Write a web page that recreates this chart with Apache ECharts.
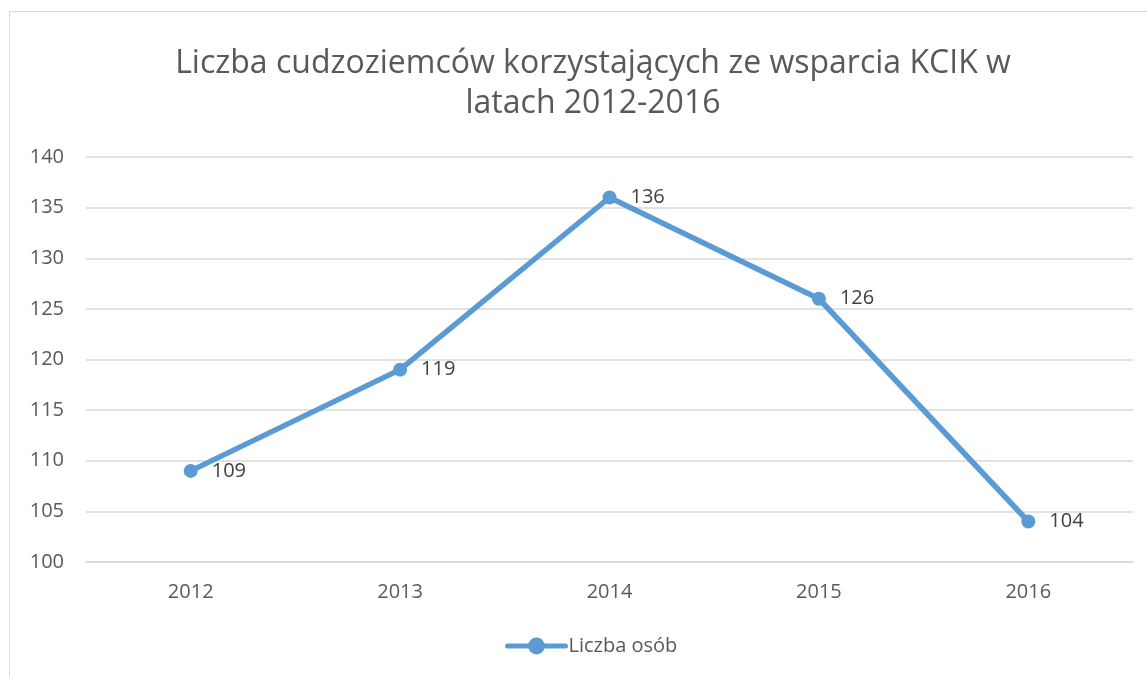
<!DOCTYPE html>
<html>
<head>
<meta charset="utf-8">
<script src="https://cdn.jsdelivr.net/npm/echarts@6/dist/echarts.min.js"></script>
<style>
html, body { margin:0; padding:0; background:#fff; overflow:hidden; }
.frame { position:absolute; left:9px; top:11px; width:1160px; height:700px; border:1.5px solid #d9d9d9; box-sizing:border-box; }
#chart { position:absolute; left:0; top:0; width:1147px; height:677px; }
</style>
</head>
<body>
<div class="frame"></div>
<div id="chart"></div>
<script>
// dane z wykresu
var aYears = ['2012', '2013', '2014', '2015', '2016'];
var aCount = [109, 119, 136, 126, 104];
var seriesName = 'Liczba osób';

var oChart = echarts.init(document.getElementById('chart'));
var opt = {
  title: {
    text: 'Liczba cudzoziemców korzystających ze wsparcia KCIK w\nlatach 2012-2016',
    left: 588,
    textAlign: 'center',
    top: 39,
    textStyle: {
      fontFamily: 'Open Sans',
      fontWeight: 'normal',
      fontSize: 32,
      color: '#595959',
      lineHeight: 40
    }
  },
  legend: {
    data: [seriesName],
    bottom: 16,
    left: 500,
    itemWidth: 58,
    itemHeight: 21,
    itemGap: 4,
    itemStyle: { borderWidth: 0 },
    lineStyle: { width: 5 },
    textStyle: { fontFamily: 'Open Sans', fontSize: 20, color: '#595959', padding: [0, 0, 0, -2] }
  },
  grid: {
    left: 86,
    right: 14,
    top: 157,
    bottom: 115
  },
  xAxis: {
    type: 'category',
    data: aYears,
    boundaryGap: true,
    axisLine: { lineStyle: { color: '#d9d9d9', width: 1.5 } },
    axisTick: { show: false },
    axisLabel: { fontFamily: 'Open Sans', fontSize: 20, color: '#595959', margin: 20 }
  },
  yAxis: {
    type: 'value',
    min: 100,
    max: 140,
    interval: 5,
    axisLine: { show: false },
    axisTick: { show: false },
    splitLine: { lineStyle: { color: '#d9d9d9', width: 1.5 } },
    axisLabel: { fontFamily: 'Open Sans', fontSize: 20, color: '#595959', margin: 22 }
  },
  series: [{
    name: seriesName,
    type: 'line',
    data: aCount,
    symbol: 'circle',
    symbolSize: 14,
    lineStyle: { color: '#5b9bd5', width: 5.5, cap: 'round' },
    itemStyle: { color: '#5b9bd5' },
    label: {
      show: true,
      position: 'right',
      distance: 14,
      fontFamily: 'Open Sans',
      fontSize: 20,
      color: '#404040'
    }
  }]
};
oChart.setOption(opt);
</script>
</body>
</html>
